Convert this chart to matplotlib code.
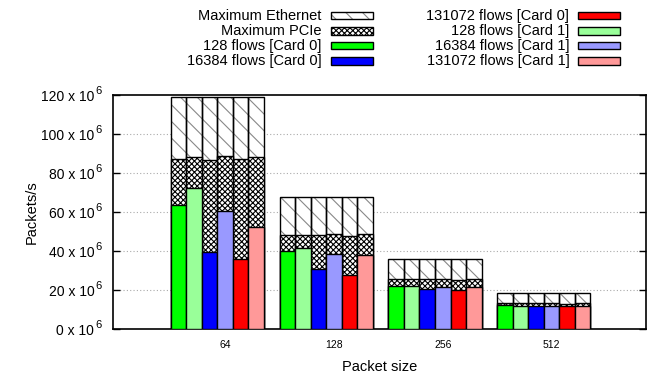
import matplotlib
matplotlib.use("Agg")
import matplotlib.pyplot as plt
from matplotlib.patches import Rectangle
import numpy as np

plt.rcParams['font.family'] = ['Liberation Sans', 'DejaVu Sans']
plt.rcParams['hatch.linewidth'] = 0.8

packet_sizes = ["64", "128", "256", "512"]
max_ethernet = [119.0, 67.6, 36.2, 18.8]
# PCIe maximum per bar (order: 128 C0, 128 C1, 16384 C0, 16384 C1, 131072 C0, 131072 C1)
max_pcie = [
    [87.2, 88.2, 86.5, 88.7, 87.0, 88.2],
    [48.2, 48.2, 48.2, 48.9, 47.8, 48.9],
    [25.6, 25.6, 25.6, 25.8, 25.3, 25.8],
    [13.3, 13.3, 13.3, 13.3, 13.2, 13.3],
]
flows_128_card0 = [63.9, 40.0, 22.4, 12.3]
flows_128_card1 = [72.6, 41.4, 22.0, 12.0]
flows_16384_card0 = [39.4, 31.0, 20.8, 12.0]
flows_16384_card1 = [60.8, 38.7, 21.7, 12.1]
flows_131072_card0 = [36.2, 27.9, 20.2, 11.8]
flows_131072_card1 = [52.4, 38.1, 21.5, 12.1]
y_ticks = [0, 20, 40, 60, 80, 100, 120]

series = [
    ("128 flows [Card 0]", flows_128_card0, "#00ff00"),
    ("128 flows [Card 1]", flows_128_card1, "#99ff99"),
    ("16384 flows [Card 0]", flows_16384_card0, "#0000ff"),
    ("16384 flows [Card 1]", flows_16384_card1, "#9999ff"),
    ("131072 flows [Card 0]", flows_131072_card0, "#ff0000"),
    ("131072 flows [Card 1]", flows_131072_card1, "#ff9999"),
]

W, H = 657, 377
fig = plt.figure(figsize=(W / 100, H / 100), dpi=100)
ax = fig.add_axes([113.3 / W, (H - 329.3) / H, (646 - 113.3) / W, (329.3 - 95) / H])

slots = 7
bw = 1.0
eth_hatch = '\\\\'
pcie_hatch = 'xxxxxx'
for g in range(len(packet_sizes)):
    for j, (name, vals, col) in enumerate(series):
        x = g * slots + j
        ax.bar(x, max_ethernet[g], width=bw, align='edge', color='white',
               edgecolor='#888888', hatch=eth_hatch, linewidth=0, zorder=2)
        ax.bar(x, max_ethernet[g], width=bw, align='edge', fill=False,
               edgecolor='black', linewidth=1.0, zorder=2.1)
        ax.bar(x, max_pcie[g][j], width=bw, align='edge', color='white',
               edgecolor='black', hatch=pcie_hatch, linewidth=0, zorder=3)
        ax.bar(x, max_pcie[g][j], width=bw, align='edge', fill=False,
               edgecolor='black', linewidth=1.0, zorder=3.1)
        ax.bar(x, vals[g], width=bw, align='edge', color=col,
               edgecolor='black', linewidth=1.0, zorder=4)

ax.set_xlim(-3.69, 30.57)
ax.set_ylim(0, 120)
ax.set_xticks([g * slots + 3.5 for g in range(len(packet_sizes))])
ax.set_xticklabels(packet_sizes, fontsize=7.5)
ax.tick_params(axis='x', length=0, pad=8)
ax.set_yticks(y_ticks)
ax.set_yticklabels([])
ax.tick_params(axis='y', direction='in', length=5, width=1, right=True)
ytr = ax.get_yaxis_transform()
for v in y_ticks:
    ax.annotate(f"{v} x 10", xy=(0, v), xycoords=ytr, xytext=(-13.7, -1.5),
                textcoords='offset points', ha='right', va='center', fontsize=10,
                annotation_clip=False)
    ax.annotate("6", xy=(0, v), xycoords=ytr, xytext=(-8.6, 3.0),
                textcoords='offset points', ha='right', va='center', fontsize=8,
                annotation_clip=False)
for v in y_ticks[1:-1]:
    ax.axhline(v, color='#aaaaaa', linestyle=(0, (1, 2)), linewidth=0.8, zorder=1)
for s in ax.spines.values():
    s.set_linewidth(1.2)
ax.set_xlabel("Packet size", fontsize=10.5, labelpad=7)
ax.set_ylabel("Packets/s", fontsize=10.5, labelpad=50)

legend_items = [
    ("Maximum Ethernet", dict(color='white', hatch=eth_hatch, ec='#888888')),
    ("Maximum PCIe", dict(color='white', hatch=pcie_hatch, ec='black')),
    (series[0][0], dict(color=series[0][2])),
    (series[2][0], dict(color=series[2][2])),
    (series[4][0], dict(color=series[4][2])),
    (series[1][0], dict(color=series[1][2])),
    (series[3][0], dict(color=series[3][2])),
    (series[5][0], dict(color=series[5][2])),
]
rows_y = [15.7, 31.0, 45.7, 61.0]
cols = [(321.3, 330.5, 372.6), (569.3, 578.0, 620.2)]
for i, (label, st) in enumerate(legend_items):
    c = cols[i // 4]
    yy = rows_y[i % 4]
    fig.text(c[0] / W, 1 - yy / H, label, ha='right', va='center', fontsize=10.5)
    x0, x1 = c[1] / W, c[2] / W
    h = 7.5 / H
    y0 = 1 - (yy + 3.75) / H
    if 'hatch' in st:
        fig.patches.append(Rectangle((x0, y0), x1 - x0, h, transform=fig.transFigure,
                                     facecolor='white', edgecolor=st['ec'], hatch=st['hatch'],
                                     linewidth=0))
        fig.patches.append(Rectangle((x0, y0), x1 - x0, h, transform=fig.transFigure,
                                     fill=False, edgecolor='black', linewidth=1.0))
    else:
        fig.patches.append(Rectangle((x0, y0), x1 - x0, h, transform=fig.transFigure,
                                     facecolor=st['color'], edgecolor='black', linewidth=1.0))

fig.savefig("out.png", dpi=100)
